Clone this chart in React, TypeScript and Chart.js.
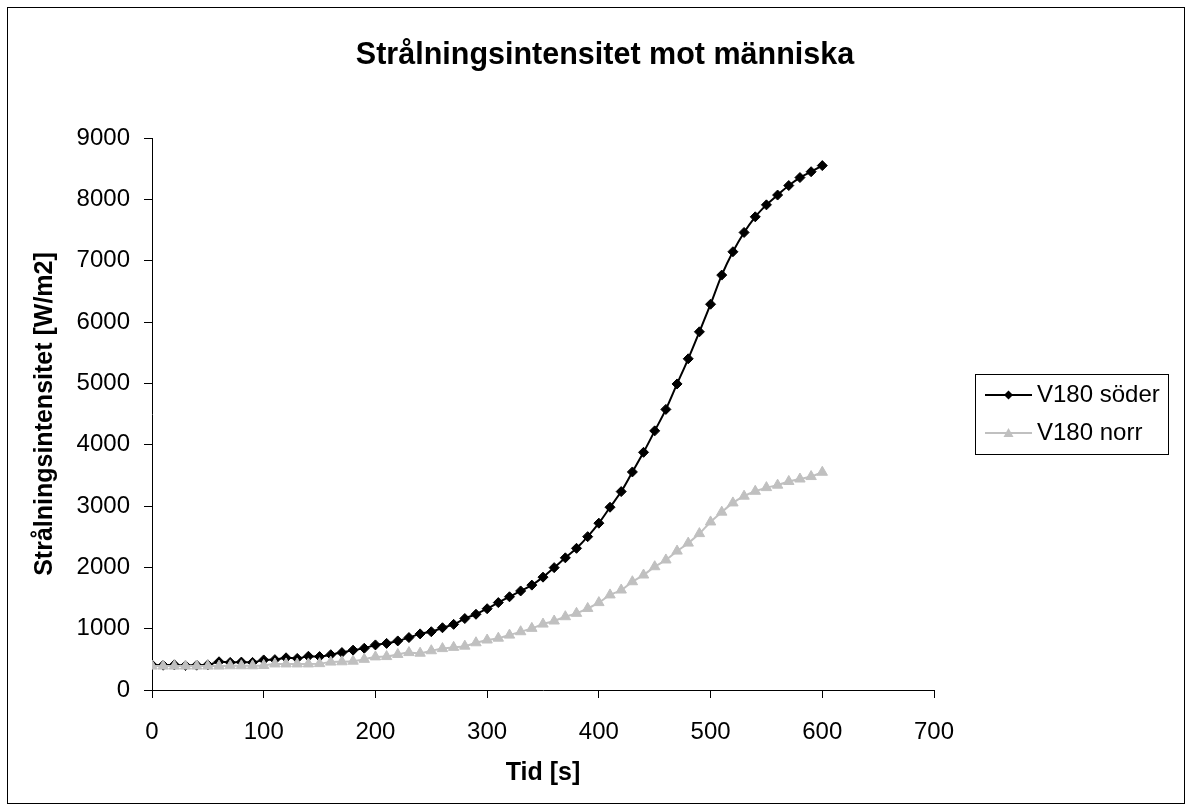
import { useEffect, useRef } from "react";
import { Chart, registerables } from "chart.js";

Chart.register(...registerables);

// Time in seconds
const times = [
  0, 10, 20, 30, 40, 50, 60, 70, 80, 90,
  100, 110, 120, 130, 140, 150, 160, 170, 180, 190,
  200, 210, 220, 230, 240, 250, 260, 270, 280, 290,
  300, 310, 320, 330, 340, 350, 360, 370, 380, 390,
  400, 410, 420, 430, 440, 450, 460, 470, 480, 490,
  500, 510, 520, 530, 540, 550, 560, 570, 580, 590,
  600,
];

// Radiation intensity [W/m2], south side
const soderValues = [
  410, 405, 410, 400, 405, 410, 460, 450, 455, 450,
  490, 495, 525, 515, 550, 545, 575, 610, 650, 680,
  735, 760, 800, 855, 915, 950, 1015, 1070, 1165, 1235,
  1325, 1425, 1520, 1615, 1710, 1840, 1995, 2155, 2310, 2500,
  2720, 2980, 3235, 3555, 3875, 4225, 4575, 4990, 5400, 5840,
  6290, 6765, 7145, 7460, 7715, 7910, 8070, 8225, 8355, 8450,
  8550,
];

// Radiation intensity [W/m2], north side
const norrValues = [
  390, 390, 390, 390, 390, 390, 390, 395, 395, 395,
  400, 425, 425, 425, 425, 430, 455, 460, 470, 500,
  540, 545, 580, 610, 600, 640, 675, 695, 715, 770,
  815, 845, 895, 950, 1005, 1075, 1125, 1195, 1250, 1330,
  1425, 1550, 1630, 1765, 1875, 2010, 2120, 2265, 2395, 2550,
  2740, 2900, 3050, 3160, 3240, 3300, 3340, 3400, 3440, 3480,
  3550,
];

const seriesNames = ["V180 söder", "V180 norr"];
const xTicks = [0, 100, 200, 300, 400, 500, 600, 700];
const yTicks = [0, 1000, 2000, 3000, 4000, 5000, 6000, 7000, 8000, 9000];

const FONT = "'Liberation Sans', Arial, Helvetica, sans-serif";
const SODER_COLOR = "#000000";
const NORR_COLOR = "#C0C0C0";

const frameAndLegend = {
  id: "frameAndLegend",
  beforeDraw(chart: any) {
    const { ctx, width, height } = chart;
    ctx.save();
    ctx.fillStyle = "#ffffff";
    ctx.fillRect(0, 0, width, height);
    ctx.restore();
  },
  afterDraw(chart: any) {
    const { ctx } = chart;
    ctx.save();
    // outer frame
    ctx.strokeStyle = "#000000";
    ctx.lineWidth = 1;
    ctx.strokeRect(7.5, 7.5, 1177, 796);

    // legend box
    const bx = 975.5, by = 374.5, bw = 193, bh = 80;
    ctx.fillStyle = "#ffffff";
    ctx.fillRect(bx, by, bw, bh);
    ctx.strokeRect(bx, by, bw, bh);

    const rows = [
      { y: 395, color: SODER_COLOR, marker: "diamond" },
      { y: 433, color: NORR_COLOR, marker: "triangle" },
    ];
    rows.forEach((r, i) => {
      ctx.strokeStyle = r.color;
      ctx.lineWidth = 2;
      ctx.beginPath();
      ctx.moveTo(985, r.y);
      ctx.lineTo(1032, r.y);
      ctx.stroke();
      ctx.fillStyle = r.color;
      ctx.beginPath();
      const cx = 1008.5;
      if (r.marker === "diamond") {
        ctx.moveTo(cx, r.y - 4.5);
        ctx.lineTo(cx + 4.5, r.y);
        ctx.lineTo(cx, r.y + 4.5);
        ctx.lineTo(cx - 4.5, r.y);
      } else {
        ctx.moveTo(cx, r.y - 5);
        ctx.lineTo(cx + 5, r.y + 4);
        ctx.lineTo(cx - 5, r.y + 4);
      }
      ctx.closePath();
      ctx.fill();
      ctx.fillStyle = "#000000";
      ctx.font = `24px ${FONT}`;
      ctx.textAlign = "left";
      ctx.textBaseline = "middle";
      ctx.fillText(seriesNames[i], 1037, r.y);
    });
    ctx.restore();
  },
};

export default function App() {
  const canvasRef = useRef<HTMLCanvasElement | null>(null);

  useEffect(() => {
    const canvas = canvasRef.current;
    if (!canvas) return;

    const toPoints = (vals: number[]) => times.map((t, i) => ({ x: t, y: vals[i] }));
    const plainNumber = (v: any) => String(v);

    const chart = new Chart(canvas, {
      type: "line",
      data: {
        datasets: [
          {
            label: seriesNames[0],
            data: toPoints(soderValues),
            borderColor: SODER_COLOR,
            backgroundColor: SODER_COLOR,
            borderWidth: 2,
            pointStyle: "rectRot",
            pointRadius: 5,
            pointBorderWidth: 1,
            cubicInterpolationMode: "monotone",
            order: 1,
          },
          {
            label: seriesNames[1],
            data: toPoints(norrValues),
            borderColor: NORR_COLOR,
            backgroundColor: NORR_COLOR,
            borderWidth: 2,
            pointStyle: "triangle",
            pointRadius: 6,
            pointBorderWidth: 1,
            cubicInterpolationMode: "monotone",
            order: 0,
          },
        ],
      },
      options: {
        responsive: false,
        animation: false,
        devicePixelRatio: 1,
        layout: { padding: { left: 18, right: 0, top: 0, bottom: 0 } },
        plugins: {
          legend: { display: false },
          tooltip: { enabled: false },
          title: {
            display: true,
            text: "Strålningsintensitet mot människa",
            color: "#000000",
            font: { family: FONT, size: 30.5, weight: "bold" },
            padding: { top: 37, bottom: 64.4 },
          },
        },
        scales: {
          x: {
            type: "linear",
            min: 0,
            max: 700,
            afterBuildTicks: (s: any) => {
              s.ticks = xTicks.map((v) => ({ value: v }));
            },
            afterFit: (s: any) => {
              s.height = 121;
            },
            ticks: {
              color: "#000000",
              font: { family: FONT, size: 24 },
              padding: 20,
              maxRotation: 0,
              autoSkip: false,
              callback: plainNumber,
            },
            grid: {
              display: true,
              drawOnChartArea: false,
              drawTicks: true,
              tickLength: 8,
              color: "#000000",
            },
            border: { display: true, color: "#000000", width: 1 },
            title: {
              display: true,
              text: "Tid [s]",
              color: "#000000",
              font: { family: FONT, size: 25, weight: "bold" },
              padding: { top: 0, bottom: 23 },
            },
          },
          y: {
            type: "linear",
            min: 0,
            max: 9000,
            afterBuildTicks: (s: any) => {
              s.ticks = yTicks.map((v) => ({ value: v }));
            },
            afterFit: (s: any) => {
              s.width = 134;
            },
            ticks: {
              color: "#000000",
              font: { family: FONT, size: 24 },
              padding: 14,
              autoSkip: false,
              callback: plainNumber,
            },
            grid: {
              display: true,
              drawOnChartArea: false,
              drawTicks: true,
              tickLength: 8,
              color: "#000000",
            },
            border: { display: true, color: "#000000", width: 1 },
            title: {
              display: true,
              text: "Strålningsintensitet [W/m2]",
              color: "#000000",
              font: { family: FONT, size: 25, weight: "bold" },
              padding: { top: 12, bottom: 0 },
            },
          },
          rightSpace: {
            type: "linear",
            position: "right",
            display: true,
            afterFit: (s: any) => {
              s.width = 258;
            },
            ticks: { display: false },
            grid: { display: false, drawTicks: false },
            border: { display: false },
            title: { display: false },
          },
        },
      },
      plugins: [frameAndLegend],
    } as any);

    return () => {
      chart.destroy();
    };
  }, []);

  return (
    <div style={{ position: "absolute", left: 0, top: 0, width: 1192, height: 811, background: "#fff" }}>
      <canvas ref={canvasRef} width={1192} height={811} />
    </div>
  );
}
